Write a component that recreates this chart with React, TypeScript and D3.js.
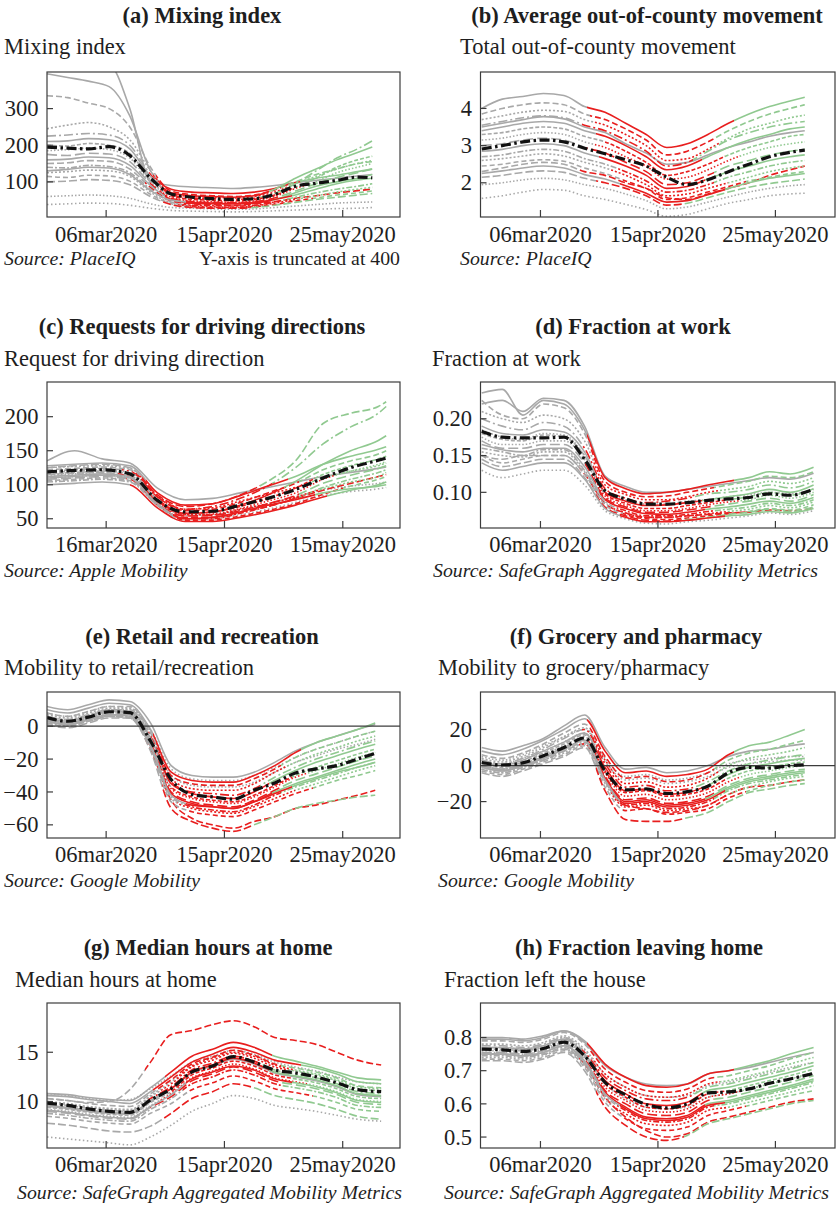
import React from 'react';
import * as d3 from 'd3';

// weekly sampling dates (Google / SafeGraph / PlaceIQ panels)
const WEEKS = [
  '2020-02-15', '2020-02-22', '2020-02-29', '2020-03-07', '2020-03-14', '2020-03-21',
  '2020-03-28', '2020-04-04', '2020-04-11', '2020-04-18', '2020-04-25', '2020-05-02',
  '2020-05-09', '2020-05-16', '2020-05-23', '2020-05-30',
];
// Apple mobility starts later
const APPLE_DATES = [
  '2020-03-01', '2020-03-08', '2020-03-15', '2020-03-22', '2020-03-29', '2020-04-05',
  '2020-04-12', '2020-04-19', '2020-04-26', '2020-05-03', '2020-05-10', '2020-05-17',
  '2020-05-24', '2020-05-26',
];

// stay-at-home window per state line (null = never / still in force)
const LOCK_START = [
  '2020-03-19', '2020-03-22', '2020-03-23', '2020-03-24', '2020-03-20', '2020-03-25',
  '2020-03-28', '2020-03-24', '2020-03-21', '2020-03-26', '2020-04-01', '2020-03-30',
  '2020-04-03', null, '2020-03-25', null, '2020-04-02', null,
];
const LOCK_END = [
  null, '2020-05-11', '2020-05-04', '2020-05-06', '2020-04-27', '2020-04-30',
  '2020-05-08', '2020-05-13', '2020-05-04', '2020-05-01', '2020-05-04', '2020-05-09',
  '2020-05-15', null, '2020-04-24', null, '2020-05-08', null,
];
const DASHES = [
  '7 3', 'none', '6 3', '2 2', '9 3 2 3', 'none', '4 2', '1.5 2', '10 4',
  'none', '6 2 2 2', '2 2', '5 3', 'none', '8 3', '1.5 2', 'none', '1.5 2.5',
];

// (a) mixing index
const MIX_MEAN = [195, 192, 190, 196, 172, 110, 67, 58, 54, 52, 54, 66, 88, 96, 104, 113, 111];
const MIX_STATES = [
  [150, 152, 158, 156, 135, 85, 48, 40, 38, 36, 40, 46, 55, 62, 70, 76, 80],
  [395, 385, 375, 360, 280, 130, 80, 72, 70, 68, 72, 82, 98, 110, 118, 128, 135],
  [335, 330, 315, 300, 250, 140, 75, 65, 62, 60, 64, 78, 100, 120, 135, 150, 155],
  [245, 255, 262, 250, 215, 130, 68, 60, 58, 56, 60, 72, 95, 115, 135, 150, 158],
  [225, 228, 232, 228, 200, 120, 65, 56, 54, 52, 55, 68, 95, 130, 165, 190, 212],
  [210, 212, 218, 215, 190, 115, 70, 62, 60, 58, 62, 80, 110, 135, 160, 180, 195],
  [200, 198, 205, 200, 178, 105, 62, 52, 50, 48, 52, 64, 85, 110, 140, 160, 170],
  [185, 188, 192, 188, 165, 100, 58, 48, 46, 44, 48, 60, 82, 100, 125, 140, 150],
  [175, 172, 178, 176, 155, 95, 55, 46, 44, 43, 46, 56, 75, 95, 112, 125, 135],
  [160, 162, 168, 166, 145, 90, 52, 42, 40, 40, 42, 52, 70, 88, 100, 110, 120],
  [140, 138, 145, 142, 125, 80, 45, 36, 35, 34, 36, 45, 58, 70, 80, 88, 95],
  [125, 128, 132, 130, 115, 72, 42, 34, 32, 30, 34, 42, 52, 62, 72, 80, 85],
  [115, 112, 118, 116, 102, 66, 40, 32, 30, 30, 32, 38, 48, 56, 64, 70, 75],
  [440, 430, 425, 420, 300, 100, 90, 86, 84, 82, 85, 90, 98, 104, 110, 116, 120],
  [100, 102, 106, 104, 92, 60, 38, 30, 28, 28, 30, 36, 44, 52, 58, 64, 68],
  [60, 62, 64, 62, 55, 40, 30, 28, 26, 25, 26, 30, 34, 38, 42, 44, 45],
  [130, 134, 140, 138, 120, 76, 50, 44, 42, 40, 44, 52, 64, 80, 95, 105, 110],
  [38, 40, 42, 41, 36, 28, 22, 20, 19, 18, 19, 21, 23, 25, 27, 28, 30],
];

// (b) out-of-county movement
const OOC_MEAN = [2.91, 3.0, 3.1, 3.15, 3.1, 2.93, 2.78, 2.62, 2.45, 2.15, 1.95, 2.08, 2.3, 2.5, 2.7, 2.82, 2.88];
const OOC_STATES = [
  [2.3, 2.4, 2.5, 2.55, 2.5, 2.3, 2.2, 2.0, 1.85, 1.6, 1.55, 1.7, 1.85, 2.0, 2.2, 2.35, 2.45],
  [4.0, 4.25, 4.32, 4.4, 4.35, 4.05, 3.9, 3.6, 3.3, 2.95, 3.05, 3.3, 3.6, 3.85, 4.05, 4.2, 4.3],
  [3.85, 4.0, 4.1, 4.15, 4.1, 3.85, 3.7, 3.45, 3.15, 2.75, 2.85, 3.1, 3.4, 3.65, 3.85, 4.0, 4.1],
  [3.7, 3.8, 3.9, 3.95, 3.92, 3.7, 3.55, 3.3, 3.0, 2.6, 2.65, 2.9, 3.2, 3.45, 3.6, 3.75, 3.82],
  [3.55, 3.65, 3.75, 3.8, 3.75, 3.55, 3.4, 3.15, 2.85, 2.45, 2.55, 2.85, 3.15, 3.35, 3.5, 3.6, 3.65],
  [3.4, 3.5, 3.6, 3.65, 3.6, 3.4, 3.25, 3.0, 2.7, 2.35, 2.45, 2.7, 2.95, 3.15, 3.3, 3.45, 3.5],
  [3.3, 3.35, 3.45, 3.5, 3.45, 3.25, 3.1, 2.85, 2.55, 2.2, 2.3, 2.5, 2.75, 2.95, 3.1, 3.25, 3.3],
  [3.15, 3.2, 3.3, 3.35, 3.3, 3.1, 2.95, 2.7, 2.45, 2.1, 2.15, 2.35, 2.6, 2.8, 2.95, 3.05, 3.1],
  [3.0, 3.05, 3.15, 3.2, 3.15, 2.95, 2.8, 2.55, 2.3, 1.95, 2.0, 2.2, 2.45, 2.6, 2.75, 2.85, 2.9],
  [2.85, 2.9, 3.0, 3.05, 3.0, 2.8, 2.65, 2.45, 2.2, 1.85, 1.9, 2.1, 2.3, 2.45, 2.6, 2.7, 2.75],
  [2.7, 2.75, 2.85, 2.9, 2.85, 2.65, 2.5, 2.3, 2.05, 1.75, 1.8, 1.95, 2.15, 2.3, 2.45, 2.55, 2.6],
  [2.6, 2.65, 2.72, 2.78, 2.72, 2.55, 2.4, 2.2, 1.95, 1.65, 1.7, 1.85, 2.0, 2.15, 2.3, 2.4, 2.45],
  [2.45, 2.5, 2.58, 2.62, 2.58, 2.4, 2.25, 2.05, 1.85, 1.55, 1.6, 1.75, 1.9, 2.05, 2.15, 2.25, 2.3],
  [3.5, 3.6, 3.7, 3.78, 3.72, 3.5, 3.35, 3.05, 2.8, 2.5, 2.55, 2.75, 2.95, 3.1, 3.25, 3.35, 3.4],
  [2.15, 2.2, 2.28, 2.32, 2.28, 2.12, 2.0, 1.85, 1.65, 1.4, 1.45, 1.6, 1.75, 1.88, 1.98, 2.05, 2.1],
  [1.95, 2.0, 2.08, 2.12, 2.08, 1.95, 1.85, 1.7, 1.52, 1.3, 1.35, 1.48, 1.62, 1.75, 1.85, 1.92, 1.95],
  [2.25, 2.32, 2.4, 2.45, 2.4, 2.22, 2.1, 1.92, 1.72, 1.48, 1.52, 1.68, 1.85, 2.0, 2.12, 2.2, 2.25],
  [1.58, 1.65, 1.75, 1.82, 1.8, 1.65, 1.55, 1.42, 1.28, 1.1, 1.15, 1.3, 1.45, 1.55, 1.65, 1.7, 1.72],
];

// (c) Apple driving directions
const DRIVE_MEAN = [119, 121, 122, 116, 77, 60, 61, 70, 80, 93, 110, 125, 136, 139];
const DRIVE_STATES = [
  [115, 117, 118, 112, 70, 52, 52, 60, 68, 80, 92, 102, 112, 115],
  [100, 102, 104, 100, 66, 46, 46, 52, 60, 70, 82, 92, 100, 104],
  [122, 124, 126, 122, 82, 62, 64, 74, 88, 102, 122, 135, 145, 150],
  [125, 127, 128, 124, 84, 64, 66, 76, 86, 96, 110, 120, 128, 132],
  [120, 122, 124, 120, 82, 64, 68, 80, 98, 125, 160, 185, 205, 215],
  [112, 114, 116, 112, 76, 58, 60, 70, 85, 105, 130, 150, 165, 172],
  [116, 118, 120, 116, 78, 58, 60, 68, 80, 95, 115, 128, 138, 142],
  [110, 112, 114, 110, 74, 56, 57, 65, 76, 88, 108, 120, 130, 134],
  [108, 110, 112, 108, 72, 54, 55, 62, 72, 84, 102, 114, 124, 128],
  [128, 130, 132, 128, 88, 70, 72, 84, 98, 112, 130, 142, 152, 156],
  [104, 106, 108, 104, 70, 50, 50, 58, 68, 80, 96, 108, 118, 122],
  [118, 120, 122, 118, 78, 56, 56, 64, 72, 82, 94, 104, 112, 118],
  [106, 108, 110, 106, 70, 48, 48, 54, 62, 72, 86, 98, 108, 112],
  [135, 150, 138, 132, 95, 78, 80, 88, 96, 104, 112, 118, 124, 126],
  [125, 128, 130, 125, 85, 68, 72, 85, 105, 135, 190, 205, 215, 222],
  [114, 116, 118, 114, 76, 55, 56, 63, 72, 82, 92, 98, 102, 104],
  [110, 112, 114, 110, 72, 50, 52, 60, 70, 78, 88, 94, 98, 100],
  [105, 108, 110, 106, 70, 48, 50, 56, 64, 74, 84, 90, 94, 96],
];

// (d) fraction at work
const WORK_MEAN = [0.183, 0.175, 0.174, 0.174, 0.175, 0.145, 0.102, 0.091, 0.084, 0.084, 0.086, 0.089, 0.091, 0.093, 0.098, 0.096, 0.104];
const WORK_STATES = [
  [0.15, 0.145, 0.15, 0.15, 0.15, 0.125, 0.085, 0.072, 0.066, 0.066, 0.068, 0.07, 0.072, 0.073, 0.076, 0.075, 0.078],
  [0.235, 0.24, 0.205, 0.225, 0.22, 0.185, 0.12, 0.105, 0.098, 0.1, 0.104, 0.11, 0.115, 0.12, 0.128, 0.125, 0.134],
  [0.225, 0.205, 0.2, 0.22, 0.215, 0.18, 0.115, 0.1, 0.094, 0.095, 0.1, 0.105, 0.11, 0.115, 0.122, 0.12, 0.128],
  [0.21, 0.2, 0.195, 0.205, 0.2, 0.17, 0.11, 0.097, 0.09, 0.09, 0.094, 0.1, 0.104, 0.108, 0.115, 0.112, 0.12],
  [0.2, 0.19, 0.185, 0.195, 0.19, 0.16, 0.105, 0.092, 0.086, 0.088, 0.092, 0.098, 0.1, 0.104, 0.11, 0.106, 0.115],
  [0.19, 0.18, 0.178, 0.185, 0.182, 0.155, 0.1, 0.088, 0.082, 0.083, 0.086, 0.09, 0.094, 0.098, 0.104, 0.1, 0.11],
  [0.18, 0.172, 0.17, 0.178, 0.175, 0.15, 0.098, 0.085, 0.078, 0.078, 0.082, 0.086, 0.09, 0.094, 0.1, 0.096, 0.105],
  [0.175, 0.165, 0.165, 0.17, 0.17, 0.145, 0.095, 0.082, 0.075, 0.075, 0.078, 0.083, 0.087, 0.09, 0.096, 0.092, 0.1],
  [0.17, 0.16, 0.16, 0.165, 0.165, 0.14, 0.092, 0.08, 0.073, 0.073, 0.076, 0.08, 0.084, 0.088, 0.092, 0.088, 0.097],
  [0.165, 0.158, 0.155, 0.16, 0.16, 0.135, 0.09, 0.078, 0.071, 0.07, 0.073, 0.077, 0.08, 0.084, 0.088, 0.085, 0.093],
  [0.16, 0.155, 0.15, 0.158, 0.158, 0.13, 0.088, 0.075, 0.068, 0.068, 0.07, 0.074, 0.077, 0.08, 0.085, 0.082, 0.09],
  [0.155, 0.15, 0.148, 0.155, 0.155, 0.128, 0.086, 0.072, 0.066, 0.066, 0.068, 0.071, 0.074, 0.077, 0.082, 0.079, 0.087],
  [0.15, 0.14, 0.145, 0.15, 0.15, 0.125, 0.083, 0.07, 0.064, 0.063, 0.065, 0.068, 0.071, 0.074, 0.078, 0.076, 0.083],
  [0.22, 0.225, 0.21, 0.228, 0.225, 0.19, 0.122, 0.108, 0.1, 0.1, 0.104, 0.108, 0.112, 0.116, 0.12, 0.118, 0.126],
  [0.145, 0.135, 0.14, 0.145, 0.145, 0.12, 0.08, 0.068, 0.062, 0.061, 0.063, 0.066, 0.07, 0.073, 0.077, 0.074, 0.08],
  [0.185, 0.175, 0.172, 0.18, 0.178, 0.15, 0.1, 0.09, 0.084, 0.084, 0.088, 0.09, 0.094, 0.097, 0.1, 0.098, 0.104],
  [0.14, 0.13, 0.135, 0.14, 0.14, 0.118, 0.078, 0.066, 0.06, 0.06, 0.062, 0.065, 0.068, 0.07, 0.074, 0.072, 0.078],
  [0.13, 0.12, 0.125, 0.13, 0.13, 0.11, 0.075, 0.064, 0.058, 0.057, 0.06, 0.062, 0.065, 0.068, 0.072, 0.07, 0.075],
];

// (e) retail and recreation
const RETAIL_MEAN = [5.3, 3.0, 5.5, 8.8, 8.2, -9, -32.5, -41.5, -43, -44.4, -39, -34.5, -28.5, -26, -24, -20, -16.5];
const RETAIL_STATES = [
  [4, 2, 3, 6, 5, -14, -45, -56, -60, -62, -58, -55, -50, -48, -45, -42, -39],
  [10, 8, 11, 14, 13, -2, -28, -33, -34, -34, -30, -24, -16, -10, -6, -2, 2],
  [8, 6, 9, 12, 12, -4, -30, -35, -36, -36, -32, -26, -19, -14, -10, -6, -3],
  [7, 5, 8, 11, 11, -5, -32, -38, -39, -39, -35, -28, -22, -17, -13, -9, -6],
  [6, 4, 7, 10, 10, -6, -34, -40, -41, -42, -38, -31, -25, -20, -16, -12, -9],
  [5, 3, 6, 9, 9, -7, -35, -41, -43, -44, -40, -33, -27, -22, -18, -14, -11],
  [5, 3, 6, 10, 9, -8, -37, -43, -45, -46, -42, -36, -30, -25, -21, -17, -14],
  [4, 2, 5, 9, 8, -9, -38, -44, -46, -47, -43, -37, -31, -27, -23, -19, -16],
  [4, 2, 5, 8, 8, -10, -40, -46, -48, -49, -45, -39, -33, -29, -25, -21, -18],
  [3, 1, 4, 7, 7, -11, -41, -47, -49, -50, -46, -40, -35, -31, -27, -23, -20],
  [3, 1, 4, 7, 6, -12, -43, -49, -51, -52, -48, -42, -37, -33, -29, -25, -22],
  [2, 0, 3, 6, 6, -12, -44, -50, -52, -53, -49, -44, -39, -35, -31, -27, -24],
  [2, 0, 3, 6, 5, -13, -46, -52, -54, -55, -51, -46, -41, -37, -33, -30, -27],
  [12, 10, 13, 16, 15, 2, -24, -30, -31, -31, -28, -22, -15, -10, -6, -2, 1],
  [1, -1, 2, 5, 5, -15, -50, -58, -62, -64, -60, -55, -50, -47, -45, -43, -42],
  [6, 4, 7, 10, 10, -3, -30, -36, -37, -37, -34, -28, -22, -18, -14, -11, -8],
  [3, 1, 4, 7, 6, -12, -42, -48, -49, -50, -46, -41, -36, -32, -28, -25, -22],
  [8, 6, 9, 12, 11, -2, -26, -32, -33, -33, -30, -25, -19, -14, -10, -6, -3],
];

// (f) grocery and pharmacy
const GROCERY_MEAN = [1.7, 0.3, 1.5, 5.5, 10, 15.3, -3, -13.5, -13, -15.5, -14.5, -11.5, -4, -1, -1.4, 0, 0.4];
const GROCERY_STATES = [
  [0, -2, 0, 3, 8, 12, -8, -22, -24, -26, -25, -22, -16, -12, -11, -9, -8],
  [8, 6, 9, 14, 20, 26, 8, -4, -3, -6, -5, -2, 6, 11, 13, 17, 20],
  [6, 4, 7, 12, 18, 23, 5, -7, -6, -9, -8, -4, 3, 7, 9, 12, 14],
  [4, 2, 5, 10, 16, 21, 3, -10, -9, -12, -11, -7, 0, 4, 6, 8, 10],
  [3, 1, 4, 9, 15, 20, 1, -12, -11, -14, -13, -9, -3, 1, 3, 5, 6],
  [2, 0, 3, 8, 13, 18, -1, -14, -13, -16, -15, -11, -5, -1, 1, 3, 4],
  [1, -1, 2, 7, 12, 17, -3, -15, -14, -17, -16, -13, -7, -3, -1, 1, 2],
  [0, -2, 1, 6, 11, 16, -4, -17, -16, -19, -18, -15, -9, -5, -3, -1, 0],
  [0, -2, 1, 5, 10, 15, -6, -19, -18, -21, -20, -17, -11, -7, -5, -3, -2],
  [-1, -3, 0, 4, 9, 14, -7, -20, -19, -22, -21, -18, -12, -8, -6, -4, -3],
  [-2, -4, -1, 3, 8, 13, -9, -22, -21, -24, -23, -20, -14, -10, -8, -6, -5],
  [-2, -4, -1, 3, 7, 12, -10, -23, -22, -25, -24, -22, -16, -12, -9, -7, -6],
  [-3, -5, -2, 2, 6, 11, -12, -25, -24, -27, -26, -24, -18, -14, -11, -9, -8],
  [10, 8, 11, 15, 22, 28, 10, -2, -1, -4, -3, 0, 5, 8, 9, 11, 12],
  [-4, -6, -3, 1, 5, 10, -14, -30, -31, -31, -29, -26, -20, -15, -13, -11, -10],
  [5, 3, 6, 11, 16, 20, 4, -6, -5, -8, -7, -4, 1, 3, 4, 5, 5],
  [-1, -3, 0, 4, 9, 14, -8, -21, -20, -23, -22, -19, -13, -9, -7, -5, -4],
  [3, 1, 4, 8, 13, 18, 2, -8, -7, -10, -9, -6, -1, 1, 2, 3, 3],
];

// (g) median hours at home
const HOME_MEAN = [9.84, 9.6, 9.25, 9.0, 8.9, 10.15, 11.3, 13.0, 13.6, 14.56, 14.0, 13.2, 12.9, 12.5, 11.9, 11.2, 11.0];
const HOME_STATES = [
  [10.3, 10.1, 9.9, 10.0, 11.2, 14.0, 16.8, 17.2, 17.8, 18.2, 17.6, 16.5, 16.2, 15.8, 15.0, 14.2, 13.7],
  [10.6, 10.5, 10.2, 10.0, 9.8, 11.0, 12.5, 14.0, 14.8, 15.5, 15.0, 14.2, 13.8, 13.4, 12.8, 12.0, 11.8],
  [10.3, 10.1, 9.8, 9.6, 9.5, 10.8, 12.2, 13.8, 14.5, 15.2, 14.7, 13.8, 13.4, 13.0, 12.4, 11.6, 11.4],
  [10.0, 9.8, 9.5, 9.3, 9.2, 10.5, 11.8, 13.5, 14.2, 14.9, 14.4, 13.5, 13.1, 12.7, 12.1, 11.3, 11.1],
  [9.8, 9.6, 9.3, 9.1, 9.0, 10.3, 11.5, 13.2, 13.9, 14.6, 14.1, 13.2, 12.8, 12.4, 11.8, 11.0, 10.8],
  [9.6, 9.4, 9.1, 8.9, 8.8, 10.1, 11.3, 13.0, 13.7, 14.4, 13.9, 13.0, 12.6, 12.2, 11.6, 10.8, 10.6],
  [9.4, 9.2, 8.9, 8.7, 8.6, 9.9, 11.0, 12.7, 13.4, 14.1, 13.6, 12.7, 12.3, 11.9, 11.3, 10.5, 10.3],
  [9.2, 9.0, 8.7, 8.5, 8.4, 9.6, 10.8, 12.4, 13.1, 13.8, 13.3, 12.4, 12.0, 11.6, 11.0, 10.2, 10.0],
  [9.0, 8.8, 8.5, 8.3, 8.2, 9.4, 10.5, 12.1, 12.8, 13.5, 13.0, 12.1, 11.7, 11.3, 10.7, 9.9, 9.7],
  [10.8, 10.7, 10.4, 10.2, 10.1, 11.4, 13.0, 14.6, 15.3, 16.0, 15.5, 14.6, 14.1, 13.6, 13.0, 12.4, 12.2],
  [8.8, 8.6, 8.3, 8.1, 8.0, 9.2, 10.3, 11.8, 12.5, 13.2, 12.7, 11.8, 11.4, 11.0, 10.4, 9.6, 9.4],
  [9.9, 9.7, 9.4, 9.2, 9.1, 10.6, 12.0, 13.6, 14.4, 15.0, 14.6, 13.7, 13.2, 12.8, 12.2, 11.5, 11.3],
  [8.5, 8.3, 8.0, 7.8, 7.7, 8.8, 9.8, 11.2, 11.9, 12.6, 12.1, 11.3, 10.9, 10.5, 9.9, 9.2, 9.0],
  [9.5, 9.3, 9.0, 8.8, 8.7, 10.0, 11.3, 12.9, 13.6, 14.3, 13.8, 12.9, 12.5, 12.1, 11.5, 10.7, 10.5],
  [7.8, 7.6, 7.3, 7.0, 6.9, 7.5, 8.8, 10.3, 11.0, 11.8, 11.4, 10.6, 10.2, 9.8, 9.2, 8.5, 8.2],
  [10.8, 10.6, 10.3, 10.1, 10.2, 11.3, 12.6, 14.0, 14.6, 15.2, 14.8, 14.0, 13.5, 13.1, 12.5, 12.0, 11.8],
  [9.1, 8.9, 8.6, 8.4, 8.3, 9.5, 10.7, 12.3, 13.0, 13.6, 13.2, 12.3, 11.9, 11.5, 10.9, 10.1, 9.9],
  [6.4, 6.2, 6.0, 5.8, 5.6, 6.4, 7.6, 9.0, 9.8, 10.6, 10.3, 9.6, 9.3, 9.0, 8.6, 8.2, 8.0],
];

// (h) fraction leaving home
const LEAVE_MEAN = [0.765, 0.763, 0.758, 0.767, 0.786, 0.745, 0.665, 0.627, 0.598, 0.588, 0.6, 0.633, 0.636, 0.645, 0.662, 0.675, 0.692];
const LEAVE_STATES = [
  [0.75, 0.75, 0.745, 0.75, 0.765, 0.72, 0.62, 0.56, 0.52, 0.5, 0.51, 0.545, 0.56, 0.575, 0.59, 0.605, 0.615],
  [0.8, 0.8, 0.795, 0.805, 0.82, 0.79, 0.72, 0.68, 0.655, 0.65, 0.66, 0.69, 0.7, 0.715, 0.73, 0.75, 0.77],
  [0.79, 0.79, 0.785, 0.795, 0.815, 0.78, 0.705, 0.665, 0.64, 0.635, 0.645, 0.675, 0.685, 0.7, 0.715, 0.735, 0.755],
  [0.78, 0.78, 0.775, 0.785, 0.805, 0.765, 0.69, 0.65, 0.625, 0.62, 0.63, 0.66, 0.67, 0.685, 0.7, 0.72, 0.74],
  [0.775, 0.775, 0.77, 0.78, 0.8, 0.755, 0.68, 0.64, 0.615, 0.61, 0.62, 0.65, 0.66, 0.675, 0.69, 0.705, 0.725],
  [0.77, 0.77, 0.765, 0.775, 0.795, 0.75, 0.67, 0.63, 0.6, 0.595, 0.605, 0.64, 0.65, 0.665, 0.68, 0.695, 0.715],
  [0.765, 0.765, 0.76, 0.77, 0.79, 0.745, 0.66, 0.62, 0.59, 0.585, 0.595, 0.63, 0.64, 0.655, 0.67, 0.685, 0.705],
  [0.76, 0.76, 0.755, 0.765, 0.785, 0.74, 0.65, 0.61, 0.58, 0.575, 0.585, 0.62, 0.63, 0.645, 0.66, 0.675, 0.695],
  [0.755, 0.755, 0.75, 0.76, 0.78, 0.735, 0.64, 0.6, 0.57, 0.565, 0.575, 0.61, 0.62, 0.635, 0.65, 0.665, 0.685],
  [0.75, 0.75, 0.745, 0.755, 0.775, 0.73, 0.635, 0.59, 0.56, 0.555, 0.565, 0.6, 0.61, 0.625, 0.64, 0.655, 0.675],
  [0.745, 0.745, 0.74, 0.75, 0.77, 0.72, 0.625, 0.58, 0.55, 0.545, 0.555, 0.59, 0.6, 0.615, 0.63, 0.645, 0.665],
  [0.74, 0.74, 0.735, 0.745, 0.765, 0.715, 0.615, 0.57, 0.54, 0.535, 0.545, 0.58, 0.59, 0.605, 0.62, 0.635, 0.655],
  [0.735, 0.735, 0.73, 0.74, 0.76, 0.71, 0.605, 0.555, 0.525, 0.52, 0.53, 0.565, 0.58, 0.595, 0.61, 0.625, 0.64],
  [0.795, 0.795, 0.79, 0.8, 0.82, 0.785, 0.715, 0.68, 0.66, 0.655, 0.66, 0.69, 0.7, 0.71, 0.725, 0.74, 0.755],
  [0.73, 0.73, 0.725, 0.735, 0.755, 0.7, 0.59, 0.535, 0.5, 0.49, 0.505, 0.54, 0.555, 0.57, 0.585, 0.6, 0.61],
  [0.77, 0.77, 0.765, 0.775, 0.8, 0.76, 0.69, 0.65, 0.625, 0.62, 0.625, 0.655, 0.665, 0.68, 0.695, 0.71, 0.725],
  [0.75, 0.75, 0.745, 0.755, 0.775, 0.725, 0.63, 0.585, 0.555, 0.55, 0.56, 0.595, 0.605, 0.62, 0.635, 0.65, 0.67],
  [0.755, 0.755, 0.75, 0.76, 0.78, 0.74, 0.66, 0.615, 0.59, 0.585, 0.59, 0.62, 0.63, 0.645, 0.66, 0.675, 0.69],
];

const STD_XTICKS = ['2020-03-06', '2020-04-15', '2020-05-25'];
const APPLE_XTICKS = ['2020-03-16', '2020-04-15', '2020-05-15'];

const FONT = "'Liberation Serif', 'Times New Roman', Times, serif";
const GRAY = '#a8a8a8';
const RED = '#e81e1e';
const GREEN = '#90c990';
const INK = '#1e1e1e';
const FRAME = '#3c3c3c';

const LEFT_X = [47, 400];
const RIGHT_X = [480.5, 835];
const ROWS = [
  { top: 72, bottom: 217, title: 23, label: 54, tick: 242, source: 265 },
  { top: 382, bottom: 528, title: 334, label: 366, tick: 552, source: 577 },
  { top: 692, bottom: 838, title: 644, label: 675, tick: 862, source: 887 },
  { top: 1003, bottom: 1148, title: 955, label: 987, tick: 1172, source: 1199 },
];
const LEFT_DOMAIN = [new Date(Date.UTC(2020, 1, 15)), new Date(Date.UTC(2020, 5, 13, 9))];
const RIGHT_DOMAIN = [new Date(Date.UTC(2020, 1, 14, 14)), new Date(Date.UTC(2020, 5, 14, 7))];
const APPLE_DOMAIN = [new Date(Date.UTC(2020, 2, 1)), new Date(Date.UTC(2020, 4, 29, 12))];

const day = (s: string) => new Date(s + 'T00:00:00Z');
const dayFmt = d3.utcFormat('%d%b%Y');

const PANELS = [
  { key: 'a', row: 0, col: 0, title: '(a) Mixing index', titleX: 202, label: 'Mixing index', labelX: 4,
    source: 'Source: PlaceIQ', sourceX: 4, note: 'Y-axis is truncated at 400',
    dates: [...WEEKS, '2020-06-04'], xDomain: LEFT_DOMAIN, xTicks: STD_XTICKS,
    yDomain: [4, 400], yTicks: [100, 200, 300], yFmt: d3.format('d'), mean: MIX_MEAN, states: MIX_STATES },
  { key: 'b', row: 0, col: 1, title: '(b) Average out-of-county movement', titleX: 647, label: 'Total out-of-county movement', labelX: 460,
    source: 'Source: PlaceIQ', sourceX: 460,
    dates: [...WEEKS, '2020-06-04'], xDomain: RIGHT_DOMAIN, xTicks: STD_XTICKS,
    yDomain: [1.08, 4.98], yTicks: [2, 3, 4], yFmt: d3.format('d'), mean: OOC_MEAN, states: OOC_STATES },
  { key: 'c', row: 1, col: 0, title: '(c) Requests for driving directions', titleX: 202, label: 'Request for driving direction', labelX: 4,
    source: 'Source: Apple Mobility', sourceX: 4,
    dates: APPLE_DATES, xDomain: APPLE_DOMAIN, xTicks: APPLE_XTICKS,
    yDomain: [36.4, 251], yTicks: [50, 100, 150, 200], yFmt: d3.format('d'), mean: DRIVE_MEAN, states: DRIVE_STATES },
  { key: 'd', row: 1, col: 1, title: '(d) Fraction at work', titleX: 633, label: 'Fraction at work', labelX: 432,
    source: 'Source: SafeGraph Aggregated Mobility Metrics', sourceX: 433,
    dates: [...WEEKS, '2020-06-07'], xDomain: RIGHT_DOMAIN, xTicks: STD_XTICKS,
    yDomain: [0.0515, 0.25], yTicks: [0.1, 0.15, 0.2], yFmt: d3.format('.2f'), mean: WORK_MEAN, states: WORK_STATES },
  { key: 'e', row: 2, col: 0, title: '(e) Retail and recreation', titleX: 202, label: 'Mobility to retail/recreation', labelX: 4,
    source: 'Source: Google Mobility', sourceX: 4, zero: true,
    dates: [...WEEKS, '2020-06-05'], xDomain: LEFT_DOMAIN, xTicks: STD_XTICKS,
    yDomain: [-68, 20.8], yTicks: [-60, -40, -20, 0], yFmt: d3.format('d'), mean: RETAIL_MEAN, states: RETAIL_STATES },
  { key: 'f', row: 2, col: 1, title: '(f) Grocery and pharmacy', titleX: 636, label: 'Mobility to grocery/pharmacy', labelX: 438,
    source: 'Source: Google Mobility', sourceX: 438, zero: true,
    dates: [...WEEKS, '2020-06-04'], xDomain: RIGHT_DOMAIN, xTicks: STD_XTICKS,
    yDomain: [-40.2, 40.8], yTicks: [-20, 0, 20], yFmt: d3.format('d'), mean: GROCERY_MEAN, states: GROCERY_STATES },
  { key: 'g', row: 3, col: 0, title: '(g) Median hours at home', titleX: 208, label: 'Median hours at home', labelX: 15,
    source: 'Source: SafeGraph Aggregated Mobility Metrics', sourceX: 17,
    dates: [...WEEKS, '2020-06-07'], xDomain: LEFT_DOMAIN, xTicks: STD_XTICKS,
    yDomain: [5.28, 20], yTicks: [10, 15], yFmt: d3.format('d'), mean: HOME_MEAN, states: HOME_STATES },
  { key: 'h', row: 3, col: 1, title: '(h) Fraction leaving home', titleX: 639, label: 'Fraction left the house', labelX: 444,
    source: 'Source: SafeGraph Aggregated Mobility Metrics', sourceX: 444,
    dates: [...WEEKS, '2020-06-07'], xDomain: RIGHT_DOMAIN, xTicks: STD_XTICKS,
    yDomain: [0.467, 0.904], yTicks: [0.5, 0.6, 0.7, 0.8], yFmt: d3.format('.1f'), mean: LEAVE_MEAN, states: LEAVE_STATES },
];

type PanelSpec = (typeof PANELS)[number];

// states that never locked down go underneath the coloured ones
const DRAW_ORDER = d3.range(LOCK_START.length).sort((a, b) => (LOCK_START[a] ? 1 : 0) - (LOCK_START[b] ? 1 : 0));

function Panel({ p }: { p: PanelSpec }) {
  const [x0, x1] = p.col === 0 ? LEFT_X : RIGHT_X;
  const r = ROWS[p.row];
  const x = d3.scaleUtc().domain(p.xDomain).range([x0, x1]);
  const y = d3.scaleLinear().domain(p.yDomain).range([r.bottom, r.top]);
  const dates = p.dates.map(day);
  const line = d3.line<number>()
    .x((_, i) => x(dates[i]))
    .y(v => y(v))
    .curve(d3.curveMonotoneX);
  const offset = (s: string | null) =>
    s == null ? 1 : Math.max(0, Math.min(1, (x(day(s)) - x0) / (x1 - x0)));
  const clipId = `clip-${p.key}`;

  return (
    <g>
      <defs>
        <clipPath id={clipId}>
          <rect x={x0} y={r.top} width={x1 - x0} height={r.bottom - r.top} />
        </clipPath>
        {p.states.map((_, i) => {
          const s = LOCK_START[i] ? offset(LOCK_START[i]) : 1;
          const e = LOCK_START[i] && LOCK_END[i] ? offset(LOCK_END[i]) : 1;
          return (
            <linearGradient key={i} id={`${p.key}-s${i}`} gradientUnits="userSpaceOnUse" x1={x0} y1={0} x2={x1} y2={0}>
              <stop offset={0} stopColor={GRAY} />
              <stop offset={s} stopColor={GRAY} />
              <stop offset={s} stopColor={RED} />
              <stop offset={e} stopColor={RED} />
              <stop offset={e} stopColor={GREEN} />
              <stop offset={1} stopColor={GREEN} />
            </linearGradient>
          );
        })}
      </defs>

      <text x={p.titleX} y={r.title} textAnchor="middle" fontWeight="bold" fontSize={22.5} fill={INK}>{p.title}</text>
      <text x={p.labelX} y={r.label} fontSize={22.5} fill={INK}>{p.label}</text>

      <g clipPath={`url(#${clipId})`}>
        {DRAW_ORDER.map(i => (
          <path key={i} d={line(p.states[i]) || ''} fill="none" stroke={`url(#${p.key}-s${i})`}
            strokeWidth={1.6} strokeDasharray={DASHES[i]} />
        ))}
        {p.zero && <line x1={x0} x2={x1} y1={y(0)} y2={y(0)} stroke={FRAME} strokeWidth={1.2} />}
        <path d={line(p.mean) || ''} fill="none" stroke="#111" strokeWidth={3.2} strokeDasharray="10 3.5 2.5 3.5" />
      </g>

      <rect x={x0} y={r.top} width={x1 - x0} height={r.bottom - r.top} fill="none" stroke={FRAME} strokeWidth={1.2} />

      {p.yTicks.map(t => (
        <g key={t}>
          <line x1={x0} x2={x0 + 6} y1={y(t)} y2={y(t)} stroke={FRAME} strokeWidth={1.2} />
          <text x={x0 - 8.5} y={y(t)} dy="0.34em" textAnchor="end" fontSize={22.5} fill={INK}>
            {p.yFmt(t).replace('-', '\u2212')}
          </text>
        </g>
      ))}
      {p.xTicks.map(t => {
        const xp = x(day(t));
        return (
          <g key={t}>
            <line x1={xp} x2={xp} y1={r.bottom} y2={r.bottom - 7} stroke={FRAME} strokeWidth={1.2} />
            <text x={xp} y={r.tick} textAnchor="middle" fontSize={22.5} fill={INK}>{dayFmt(day(t)).toLowerCase()}</text>
          </g>
        );
      })}

      <text x={p.sourceX} y={r.source} fontStyle="italic" fontSize={19.8} fill={INK}>{p.source}</text>
      {p.note && <text x={x1} y={r.source} textAnchor="end" fontSize={19.8} fill={INK}>{p.note}</text>}
    </g>
  );
}

export default function App() {
  return (
    <svg width={836} height={1210} viewBox="0 0 836 1210"
      style={{ position: 'absolute', left: 0, top: 0, display: 'block', background: '#fff' }}
      fontFamily={FONT}>
      <rect width={836} height={1210} fill="#fff" />
      {PANELS.map(p => <Panel key={p.key} p={p} />)}
    </svg>
  );
}
